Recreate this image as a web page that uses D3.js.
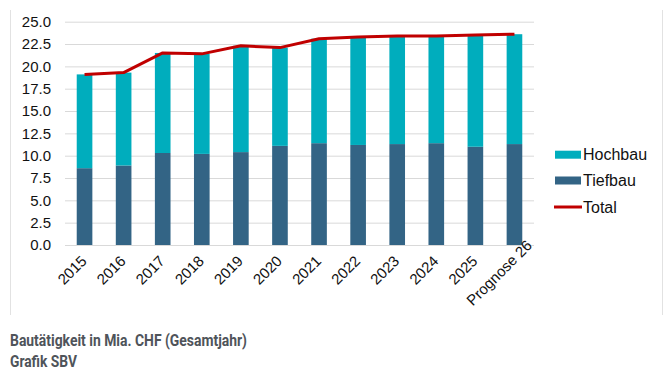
<!DOCTYPE html>
<html>
<head>
<meta charset="utf-8">
<script src="https://cdn.jsdelivr.net/npm/d3@7"></script>
<style>
  body { margin: 0; background: #fff; }
  svg { display: block; }
</style>
</head>
<body>
<div id="chart_area"></div>
<script>
// data (Mia. CHF)
const years = ["2015", "2016", "2017", "2018", "2019", "2020", "2021", "2022", "2023", "2024", "2025", "Prognose 26"];
const tiefbau = [8.6, 8.9, 10.3, 10.2, 10.4, 11.1, 11.4, 11.2, 11.3, 11.4, 11.0, 11.3];
const hochbau = [10.5, 10.4, 11.2, 11.2, 11.9, 11.0, 11.7, 12.1, 12.1, 12.0, 12.5, 12.3];
const total = [19.1, 19.3, 21.5, 21.4, 22.3, 22.1, 23.1, 23.3, 23.4, 23.4, 23.5, 23.6];
const yTicks = [0, 2.5, 5, 7.5, 10, 12.5, 15, 17.5, 20, 22.5, 25];

const width = 670, height = 373;
const plot = { left: 65, right: 534, top: 21.7, bottom: 245 };

const svg = d3.select("#chart_area")
  .append("svg")
  .attr("width", width)
  .attr("height", height);

const x = d3.scaleBand()
  .domain(years)
  .range([plot.left, plot.right])
  .paddingInner(0.6)
  .paddingOuter(0.3);

const y = d3.scaleLinear()
  .domain([0, 25])
  .range([plot.bottom, plot.top]);

// frame lines left / right
svg.append("line")
  .attr("x1", 10.5).attr("x2", 10.5).attr("y1", 10).attr("y2", 315)
  .attr("stroke", "#e2e2e2");
svg.append("line")
  .attr("x1", 662.5).attr("x2", 662.5).attr("y1", 10).attr("y2", 315)
  .attr("stroke", "#e2e2e2");

// gridlines + y labels
const yAxis = d3.axisLeft(y)
  .tickValues(yTicks)
  .tickFormat(d3.format(".1f"))
  .tickSize(-(plot.right - plot.left))
  .tickPadding(14);

svg.append("g")
  .attr("transform", `translate(${plot.left},0)`)
  .call(yAxis)
  .call(g => g.select(".domain").remove())
  .call(g => g.selectAll(".tick line").attr("stroke", "#d9d9d9"))
  .call(g => g.selectAll(".tick text")
    .attr("fill", "#111")
    .attr("font-family", "Liberation Sans, Arial, sans-serif")
    .attr("font-size", 15));

// stacked bars
const rows = years.map((yr, i) => ({ year: yr, Tiefbau: tiefbau[i], Hochbau: hochbau[i] }));
const stack = d3.stack().keys(["Tiefbau", "Hochbau"])(rows);
const colors = { Tiefbau: "#336485", Hochbau: "#00adbd" };

svg.append("g").selectAll("g")
  .data(stack)
  .join("g")
  .attr("fill", d => colors[d.key])
  .selectAll("rect")
  .data(d => d)
  .join("rect")
  .attr("x", d => x(d.data.year))
  .attr("y", d => y(d[1]))
  .attr("width", x.bandwidth())
  .attr("height", d => y(d[0]) - y(d[1]));

// x axis baseline + labels
svg.append("line")
  .attr("x1", plot.left).attr("x2", plot.right)
  .attr("y1", y(0) + 0.5).attr("y2", y(0) + 0.5)
  .attr("stroke", "#d9d9d9");

svg.append("g").selectAll("text")
  .data(years)
  .join("text")
  .attr("transform", d => `translate(${x(d) + x.bandwidth() / 2 + 3},${plot.bottom + 17}) rotate(-45)`)
  .attr("dx", (d, i) => i === years.length - 1 ? 22 : 0) // long label sits further out, as in Excel
  .attr("text-anchor", "end")
  .attr("fill", "#111")
  .attr("font-family", "Liberation Sans, Arial, sans-serif")
  .attr("font-size", 15)
  .text(d => d);

// total line
const line = d3.line()
  .x((d, i) => x(years[i]) + x.bandwidth() / 2)
  .y(d => y(d));

svg.append("path")
  .datum(total)
  .attr("d", line)
  .attr("fill", "none")
  .attr("stroke", "#c00000")
  .attr("stroke-width", 3)
  .attr("stroke-linejoin", "round");

// legend
const legend = svg.append("g")
  .attr("font-family", "Liberation Sans, Arial, sans-serif")
  .attr("font-size", 16)
  .attr("fill", "#111");

const legendItems = [
  { label: "Hochbau", color: colors.Hochbau, type: "rect", cy: 154.7 },
  { label: "Tiefbau", color: colors.Tiefbau, type: "rect", cy: 180.5 },
  { label: "Total", color: "#c00000", type: "line", cy: 207 }
];

legendItems.forEach(d => {
  if (d.type === "rect") {
    legend.append("rect")
      .attr("x", 555).attr("y", d.cy - 4)
      .attr("width", 26).attr("height", 8)
      .attr("fill", d.color);
  } else {
    legend.append("line")
      .attr("x1", 554).attr("x2", 582)
      .attr("y1", d.cy).attr("y2", d.cy)
      .attr("stroke", d.color).attr("stroke-width", 3);
  }
  legend.append("text")
    .attr("x", 583)
    .attr("y", d.cy + 5.5)
    .text(d.label);
});

// caption
const caption = svg.append("g")
  .attr("font-family", "Roboto, sans-serif")
  .attr("font-weight", "bold")
  .attr("font-size", 17)
  .attr("fill", "#4f545a");

caption.append("text")
  .attr("x", 10).attr("y", 346)
  .attr("textLength", 237)
  .attr("lengthAdjust", "spacingAndGlyphs")
  .text("Bautätigkeit in Mia. CHF (Gesamtjahr)");

caption.append("text")
  .attr("x", 10).attr("y", 367)
  .attr("textLength", 67)
  .attr("lengthAdjust", "spacingAndGlyphs")
  .text("Grafik SBV");
</script>
</body>
</html>
